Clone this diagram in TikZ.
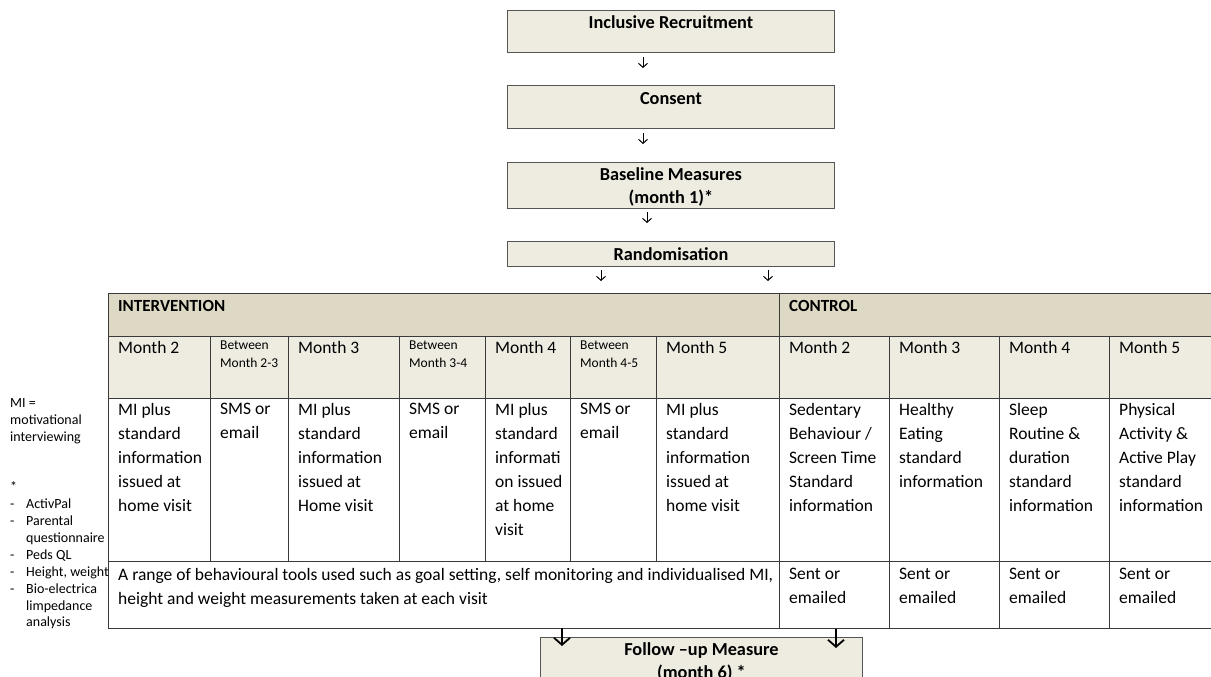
\documentclass[tikz,border=0pt]{standalone}
\usepackage{fontspec}
\setmainfont{Carlito}
\usetikzlibrary{arrows.meta}
\definecolor{boxfill}{HTML}{EEECE1}
\definecolor{headfill}{HTML}{DDD9C4}
\definecolor{lncol}{HTML}{3A3A3A}
\definecolor{boxline}{HTML}{555555}
\tikzset{
  flowbox/.style={draw=boxline, fill=boxfill, line width=0.9pt, inner sep=0pt, anchor=north west},
  btxt/.style={font=\fontsize{18.3}{23}\selectfont\bfseries, align=center, inner sep=0pt, anchor=north, execute at begin node=\strut},
  htxt/.style={font=\fontsize{17}{21}\selectfont\bfseries, align=left, inner sep=0pt, anchor=north west, execute at begin node=\strut},
  ctxt/.style={font=\fontsize{17.5}{24}\selectfont, align=left, inner sep=0pt, anchor=north west, execute at begin node=\strut},
  stxt/.style={font=\fontsize{13.5}{18.5}\selectfont, align=left, inner sep=0pt, anchor=north west, execute at begin node=\strut},
  ntxt/.style={font=\fontsize{14}{16.9}\selectfont, inner sep=0pt, anchor=north west},
  grid/.style={draw=lncol, line width=0.9pt},
  sarr/.style={-{Straight Barb[length=4pt,width=9pt]}, line width=1pt, black},
  barr/.style={-{Straight Barb[length=7pt,width=16pt]}, line width=1.8pt, black}
}
\begin{document}
\begin{tikzpicture}[x=1pt,y=-1pt]
\clip (0,0) rectangle (1211,677);
\fill[white] (0,0) rectangle (1211,677);

% flow boxes
\node[flowbox, minimum width=327pt, minimum height=42pt] (rec) at (507,10) {};
\node[btxt] (rect) at ([yshift=-2.3pt]rec.north) {Inclusive Recruitment};
\node[flowbox, minimum width=327pt, minimum height=43pt] (con) at (507,85) {};
\node[btxt] (cont) at ([yshift=-2.8pt]con.north) {Consent};
\node[flowbox, minimum width=327pt, minimum height=46pt] (base) at (507,162) {};
\node[btxt] (baset) at ([yshift=-5pt]base.north) {Baseline Measures\\(month 1)*};
\node[flowbox, minimum width=327pt, minimum height=25pt] (rand) at (507,241) {};
\node[btxt] (randt) at ([yshift=-3.5pt]rand.north) {Randomisation};

% small arrows
\coordinate (a1s) at (643,57);  \coordinate (a1e) at (643,68);
\coordinate (a2s) at (643,133); \coordinate (a2e) at (643,144);
\coordinate (a3s) at (647,212); \coordinate (a3e) at (647,223);
\coordinate (a4s) at (601,270); \coordinate (a4e) at (601,281);
\coordinate (a5s) at (768,270); \coordinate (a5e) at (768,281);
\foreach \n in {1,...,5} \draw[sarr] (a\n s) -- (a\n e);

% table fills
\fill[headfill] (108,293) rectangle (1215,336);
\fill[boxfill] (108,336) rectangle (1215,398);
% table lines
\foreach \y in {293,336,398,561,628} \draw[grid] (108,\y) -- (1215,\y);
\foreach \x in {108,779} \draw[grid] (\x,293) -- (\x,628);
\foreach \x in {210,288,399,485,570,656} \draw[grid] (\x,336) -- (\x,561);
\foreach \x in {889,999,1109} \draw[grid] (\x,336) -- (\x,628);

% headers
\node[htxt] (hint) at (118,296.3) {INTERVENTION};
\node[htxt] (hcon) at (789,296.3) {CONTROL};

% month row
\node[ctxt] (m1) at (118,336.2) {Month 2};
\node[stxt] (m2) at (220,340.5) {Between\\Month 2-3};
\node[ctxt] (m3) at (298,336.2) {Month 3};
\node[stxt] (m4) at (409,340.5) {Between\\Month 3-4};
\node[ctxt] (m5) at (495,336.2) {Month 4};
\node[stxt] (m6) at (580,340.5) {Between\\Month 4-5};
\node[ctxt] (m7) at (666,336.2) {Month 5};
\node[ctxt] (m8) at (789,336.2) {Month 2};
\node[ctxt] (m9) at (899,336.2) {Month 3};
\node[ctxt] (m10) at (1009,336.2) {Month 4};
\node[ctxt] (m11) at (1119,336.2) {Month 5};

% content row
\node[ctxt] (c1) at (118,403.2) {MI plus\\standard\\information\\issued at\\home visit};
\node[ctxt] (c2) at (220,403.2) {SMS or\\email};
\node[ctxt] (c3) at (298,403.2) {MI plus\\standard\\information\\issued at\\Home visit};
\node[ctxt] (c4) at (409,403.2) {SMS or\\email};
\node[ctxt] (c5) at (495,403.2) {MI plus\\standard\\informati\\on issued\\at home\\visit};
\node[ctxt] (c6) at (580,403.2) {SMS or\\email};
\node[ctxt] (c7) at (666,403.2) {MI plus\\standard\\information\\issued at\\home visit};
\node[ctxt] (c8) at (789,403.2) {Sedentary\\Behaviour /\\Screen Time\\Standard\\information};
\node[ctxt] (c9) at (899,403.2) {Healthy\\Eating\\standard\\information};
\node[ctxt] (c10) at (1009,403.2) {Sleep\\Routine \&\\duration\\standard\\information};
\node[ctxt] (c11) at (1119,403.2) {Physical\\Activity \&\\Active Play\\standard\\information};

% bottom row
\node[ctxt] (b1) at (118,567.7) {A range of behavioural tools used such as goal setting, self monitoring and individualised MI,\\height and weight measurements taken at each visit};
\node[ctxt] (b8) at (789,567.7) {Sent or\\emailed};
\node[ctxt] (b9) at (899,567.7) {Sent or\\emailed};
\node[ctxt] (b10) at (1009,567.7) {Sent or\\emailed};
\node[ctxt] (b11) at (1119,567.7) {Sent or\\emailed};

% left notes
\node[ntxt] (notes) at (10,395.2) {%
\begin{tabular}{@{}p{16pt}@{}l@{}}
\multicolumn{2}{@{}l@{}}{MI =}\\
\multicolumn{2}{@{}l@{}}{motivational}\\
\multicolumn{2}{@{}l@{}}{interviewing}\\
\\
\\
\multicolumn{2}{@{}l@{}}{*}\\
-&ActivPal\\
-&Parental\\
&questionnaire\\
-&Peds QL\\
-&Height, weight\\
-&Bio-electrica\\
&limpedance\\
&analysis
\end{tabular}};

% follow-up
\node[flowbox, minimum width=322pt, minimum height=60pt] (fol) at (540,637) {};
\node[btxt] (folt) at ([yshift=-5.5pt]fol.north) {Follow –up Measure\\(month 6) *};
\coordinate (f1s) at (562,628); \coordinate (f1e) at (562,646);
\coordinate (f2s) at (836,629); \coordinate (f2e) at (836,648);
\draw[barr] (f1s) -- (f1e);
\draw[barr] (f2s) -- (f2e);
\end{tikzpicture}
\end{document}
